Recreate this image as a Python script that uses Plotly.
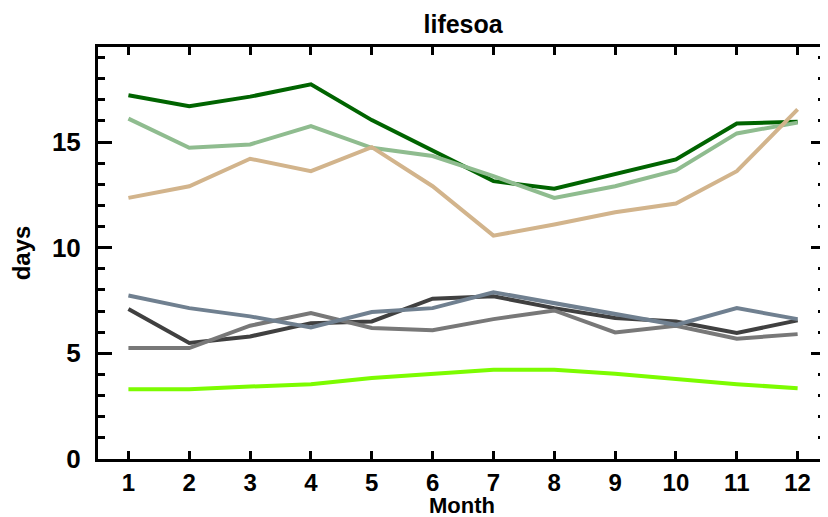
import plotly.graph_objects as go

months = list(range(1, 13))

dark_green = [17.22, 16.70, 17.15, 17.73, 16.04, 14.57, 13.15, 12.79, 13.50, 14.18, 15.88, 15.96]
light_green = [16.11, 14.73, 14.89, 15.76, 14.73, 14.34, 13.39, 12.36, 12.91, 13.66, 15.41, 15.92]
tan = [12.36, 12.91, 14.21, 13.62, 14.76, 12.91, 10.57, 11.10, 11.68, 12.09, 13.62, 16.55]
dark_gray = [7.10, 5.49, 5.80, 6.43, 6.51, 7.59, 7.70, 7.14, 6.67, 6.51, 5.96, 6.56]
mid_gray = [5.25, 5.25, 6.31, 6.91, 6.20, 6.09, 6.62, 7.03, 5.99, 6.31, 5.69, 5.91]
slate = [7.74, 7.14, 6.75, 6.23, 6.96, 7.14, 7.89, 7.38, 6.83, 6.35, 7.14, 6.62]
lawn = [3.30, 3.30, 3.43, 3.54, 3.83, 4.02, 4.22, 4.22, 4.03, 3.79, 3.54, 3.35]

series = [
    ("dark green", dark_green, "#006400"),
    ("light green", light_green, "#8FBC8F"),
    ("tan", tan, "#D2B48C"),
    ("dark gray", dark_gray, "#404040"),
    ("gray", mid_gray, "#787878"),
    ("slate", slate, "#708090"),
    ("lawn", lawn, "#7CFC00"),
]

fig = go.Figure()
for name, vals, col in series:
    fig.add_trace(go.Scatter(x=months, y=vals, mode="lines", name=name,
                             line=dict(color=col, width=4), showlegend=False))

fam = "Liberation Sans"
# page body has an 8px default margin, so the figure is sized to fit the window
fig.update_layout(
    width=820, height=509,
    margin=dict(l=90, r=3, t=39, b=58),
    plot_bgcolor="white", paper_bgcolor="white",
    title=dict(text="lifesoa", x=0.555, xanchor="center", y=0.968, yanchor="middle",
               font=dict(family=fam, size=25, color="black", weight="bold")),
    font=dict(family=fam, color="black"),
    annotations=[dict(text="Month", xref="paper", yref="paper", x=0.5, y=0,
                      xanchor="center", yanchor="top", yshift=-32, showarrow=False,
                      font=dict(family=fam, size=22, weight="bold", color="black"))],
)
fig.update_xaxes(
    range=[0.5, 12.45], tickvals=months, ticktext=[str(m) for m in months],
    showgrid=False, zeroline=False, automargin=False,
    showline=True, linewidth=3, linecolor="black", mirror="allticks",
    ticks="inside", ticklen=8, tickwidth=3, tickcolor="black",
    tickfont=dict(family=fam, size=24, weight="bold"),
    ticklabelstandoff=0,
)
fig.update_yaxes(
    range=[0, 19.5], tickvals=[0, 5, 10, 15], showgrid=False, zeroline=False, automargin=False,
    showline=True, linewidth=3, linecolor="black", mirror="allticks",
    ticks="inside", ticklen=14, tickwidth=3, tickcolor="black",
    minor=dict(dtick=1, ticks="inside", ticklen=7, tickwidth=3, tickcolor="black", showgrid=False),
    tickfont=dict(family=fam, size=26, weight="bold"),
    ticklabelstandoff=9,
    title=dict(text="days", standoff=16, font=dict(family=fam, size=24, weight="bold")),
)

fig.write_html("out.html")
